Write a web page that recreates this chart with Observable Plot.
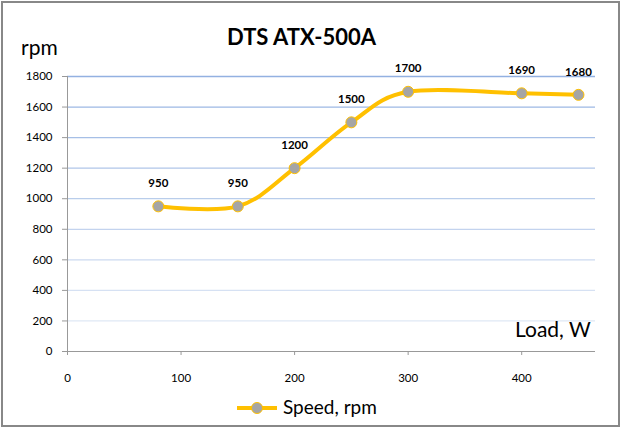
<!DOCTYPE html>
<html><head><meta charset="utf-8">
<script src="https://cdn.jsdelivr.net/npm/d3@7"></script>
<script src="https://cdn.jsdelivr.net/npm/@observablehq/plot@0.6"></script>
<style>
body{margin:0;background:#fff;font-family:Lato,"Open Sans",sans-serif;}
#wrap{position:relative;width:621px;height:428px;}
#frame{position:absolute;left:1px;top:1px;width:615px;height:422px;border:2px solid #888;}
.t{position:absolute;white-space:nowrap;color:#000;}
</style></head>
<body><div id="wrap"><div id="frame"></div>
<div class="t" id="title" style="left:0;width:603px;top:23px;text-align:center;font-size:22px;font-weight:bold;">DTS ATX-500A</div>
<div class="t" style="left:21px;top:34px;font-size:21px;">rpm</div>
<div class="t" style="left:515px;top:316px;font-size:21px;">Load, W</div>
<div class="t" style="left:236px;top:395px;font-size:19px;display:flex;align-items:center;">
<svg width="42" height="20"><line x1="1" y1="11" x2="41" y2="11" stroke="#FFC000" stroke-width="4"/><circle cx="21" cy="11" r="5.5" fill="#A5A5A5" stroke="#FFC000" stroke-width="1"/></svg>
<span style="margin-left:5px;">Speed, rpm</span></div>
</div>
<script>
const load = [80, 150, 200, 250, 300, 400, 450];
const speed = [950, 950, 1200, 1500, 1700, 1690, 1680];
const labels = ["950", "950", "1200", "1500", "1700", "1690", "1680"];
const yTicks = [0, 200, 400, 600, 800, 1000, 1200, 1400, 1600, 1800];
const xTicks = [0, 100, 200, 300, 400];

const data = load.map((x, i) => ({x, y: speed[i], label: labels[i]}));
const gridColor = d3.scaleLinear().domain([200, 1800]).range(["#dfe8f5", "#93b1e1"]);

const chart = Plot.plot({
  width: 621, height: 428,
  marginLeft: 67, marginRight: 26, marginTop: 76, marginBottom: 77,
  style: {fontFamily: "Lato, 'Open Sans', sans-serif", fontSize: "11px", background: "transparent", color: "#000"},
  x: {type: "linear", domain: [0, 465], label: null},
  y: {type: "linear", domain: [0, 1800], label: null},
  marks: [
    Plot.ruleY(yTicks.filter(d => d > 0), {y: d => d, stroke: d => gridColor(d), strokeWidth: 1.3}),
    Plot.ruleX([0], {x: d => d, y1: 0, y2: 1800, stroke: "#999"}),
    Plot.ruleY([0], {y: d => d, stroke: "#999"}),
    Plot.axisY({ticks: yTicks, tickFormat: d3.format("d"), tickSize: 5, tickPadding: 10, stroke: "#999", fill: "#000", fontSize: 11.5, label: null}),
    Plot.axisX({ticks: xTicks, tickFormat: d3.format("d"), tickSize: 4, tickPadding: 18, stroke: "#999", fill: "#000", fontSize: 11.5, label: null}),
    Plot.line(data, {x: "x", y: "y", curve: "cardinal", stroke: "#FFC000", strokeWidth: 4}),
    Plot.dot(data, {x: "x", y: "y", r: 5.5, fill: "#A5A5A5", stroke: "#FFC000", strokeWidth: 1}),
    Plot.text(data, {x: "x", y: "y", text: "label", dy: -23, fontWeight: "bold", fontSize: 11.5, fill: "#000"})
  ]
});
chart.style.position = "absolute";
chart.style.left = "0";
chart.style.top = "0";
document.getElementById("wrap").insertBefore(chart, document.getElementById("title"));
</script>
</body></html>
